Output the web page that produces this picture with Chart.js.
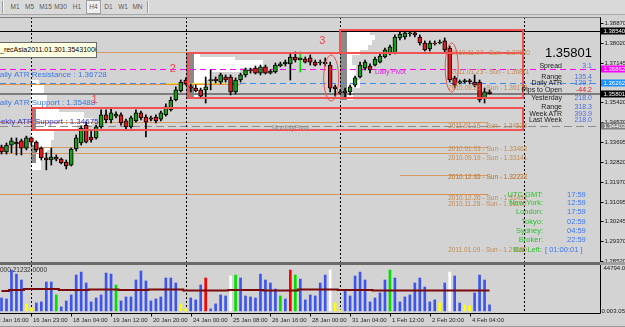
<!DOCTYPE html>
<html><head><meta charset="utf-8"><title>EURUSD H4</title>
<script src="https://cdn.jsdelivr.net/npm/chart.js@4.4.1/dist/chart.umd.min.js"></script>
<style>
html,body{margin:0;padding:0;background:#d3d3d3;overflow:hidden;width:625px;height:327px}
#wrap{position:relative;width:625px;height:327px;overflow:hidden;font-family:'Liberation Sans',Arial,sans-serif}
#tb{position:absolute;left:0;top:0;width:625px;height:14px;background:#d9d9d9;border-bottom:1px solid #a8a8a8}
.btn{position:absolute;top:1px;height:12px;line-height:12px;font-size:6.5px;color:#5a5a5a;text-align:center}
.sep{position:absolute;top:1px;width:1px;height:12px;background:#9a9a9a;border-right:1px solid #f4f4f4}
canvas{position:absolute;left:0}
</style></head><body><div id="wrap">
<div id="tb">
  <div class="sep" style="left:2px"></div>
  <div class="btn" style="left:10px;width:10px">M1</div>
  <div class="btn" style="left:24px;width:11px">M5</div>
  <div class="btn" style="left:39px;width:13px">M15</div>
  <div class="btn" style="left:54px;width:13px">M30</div>
  <div class="btn" style="left:72px;width:10px">H1</div>
  <div class="btn" style="left:86px;width:13px;background:#efefef;border:1px solid #a0a0a0;top:0px">H4</div>
  <div class="btn" style="left:103px;width:11px">D1</div>
  <div class="btn" style="left:117px;width:12px">W1</div>
  <div class="btn" style="left:132px;width:11px">MN</div>
  <div class="sep" style="left:147px"></div>
</div>
<canvas id="cPrice" width="625" height="246" style="top:17px;width:625px;height:246px"></canvas>
<div style="position:absolute;left:0;top:262px;width:600px;height:3px;background:#6a6a6a"></div>
<div style="position:absolute;left:600px;top:262px;width:25px;height:3px;background:#a0a0a0"></div>
<canvas id="cVol" width="625" height="62" style="top:265px;width:625px;height:62px"></canvas>
</div>
<script>
// ---------- DATA ----------
const open = [1.3348,1.3326,1.3356,1.3369,1.3374,1.3343,1.3387,1.3369,1.3343,1.3300,
1.3291,1.3304,1.3295,1.3282,1.3269,1.3339,1.3365,1.3443,1.3391,1.3387,
1.3435,1.3487,1.3465,1.3482,1.3487,1.3461,1.3435,1.3461,1.3496,1.3478,
1.3474,1.3478,1.3469,1.3487,1.3509,1.3552,1.3591,1.3639,1.3609,1.3604,
1.3596,1.3596,1.3636,1.3643,1.3630,1.3652,1.3652,1.3587,1.3639,1.3661,
1.3683,1.3691,1.3669,1.3696,1.3669,1.3674,1.3700,1.3709,1.3709,1.3739,
1.3726,1.3730,1.3735,1.3717,1.3713,1.3717,1.3704,1.3609,1.3587,1.3583,
1.3587,1.3617,1.3652,1.3691,1.3700,1.3704,1.3717,1.3739,1.3757,1.3757,
1.3822,1.3826,1.3841,1.3844,1.3826,1.3800,1.3774,1.3800,1.3800,1.3809,
1.3778,1.3648,1.3626,1.3632,1.3637,1.3630,1.3630,1.3561,1.3587];
const high = [1.3356,1.3365,1.3387,1.3387,1.3382,1.3395,1.3391,1.3374,1.3348,1.3322,
1.3343,1.3313,1.3300,1.3291,1.3343,1.3400,1.3439,1.3456,1.3422,1.3443,
1.3509,1.3509,1.3517,1.3500,1.3496,1.3469,1.3482,1.3509,1.3504,1.3487,
1.3482,1.3487,1.3504,1.3535,1.3565,1.3609,1.3639,1.3648,1.3622,1.3617,
1.3604,1.3652,1.3683,1.3652,1.3669,1.3661,1.3661,1.3648,1.3669,1.3691,
1.3691,1.3700,1.3704,1.3704,1.3683,1.3713,1.3717,1.3726,1.3757,1.3761,
1.3761,1.3739,1.3748,1.3726,1.3726,1.3735,1.3717,1.3617,1.3596,1.3604,
1.3617,1.3656,1.3717,1.3726,1.3709,1.3739,1.3752,1.3778,1.3791,1.3835,
1.3852,1.3857,1.3852,1.3852,1.3835,1.3809,1.3809,1.3809,1.3813,1.3822,
1.3787,1.3656,1.3639,1.3643,1.3643,1.3661,1.3639,1.3604,1.3596];
const low = [1.3317,1.3317,1.3322,1.3313,1.3313,1.3335,1.3356,1.3326,1.3291,1.3248,
1.3269,1.3287,1.3274,1.3252,1.3265,1.3330,1.3356,1.3365,1.3369,1.3382,
1.3430,1.3452,1.3452,1.3474,1.3443,1.3422,1.3430,1.3456,1.3465,1.3391,
1.3461,1.3452,1.3461,1.3482,1.3504,1.3548,1.3587,1.3617,1.3587,1.3587,
1.3565,1.3539,1.3596,1.3626,1.3622,1.3630,1.3574,1.3578,1.3630,1.3652,
1.3669,1.3665,1.3661,1.3665,1.3665,1.3669,1.3696,1.3700,1.3639,1.3717,
1.3674,1.3713,1.3704,1.3700,1.3704,1.3700,1.3587,1.3569,1.3578,1.3561,
1.3574,1.3609,1.3648,1.3683,1.3670,1.3700,1.3713,1.3735,1.3748,1.3752,
1.3813,1.3817,1.3830,1.3826,1.3791,1.3765,1.3765,1.3791,1.3796,1.3761,
1.3630,1.3604,1.3622,1.3626,1.3622,1.3609,1.3543,1.3539,1.3578];
const close = [1.3326,1.3356,1.3374,1.3361,1.3343,1.3387,1.3369,1.3335,1.3300,1.3291,
1.3304,1.3295,1.3278,1.3265,1.3339,1.3387,1.3430,1.3369,1.3378,1.3435,
1.3487,1.3465,1.3496,1.3491,1.3452,1.3435,1.3474,1.3496,1.3474,1.3456,
1.3469,1.3461,1.3496,1.3522,1.3552,1.3596,1.3630,1.3622,1.3604,1.3591,
1.3569,1.3609,1.3641,1.3636,1.3661,1.3639,1.3587,1.3639,1.3661,1.3683,
1.3678,1.3669,1.3696,1.3669,1.3678,1.3704,1.3709,1.3717,1.3739,1.3726,
1.3735,1.3717,1.3717,1.3704,1.3717,1.3709,1.3604,1.3600,1.3583,1.3591,
1.3609,1.3648,1.3704,1.3717,1.3683,1.3730,1.3743,1.3770,1.3783,1.3826,
1.3839,1.3844,1.3844,1.3835,1.3800,1.3770,1.3800,1.3796,1.3804,1.3770,
1.3639,1.3617,1.3632,1.3637,1.3632,1.3617,1.3552,1.3587,1.3580];
const volume = [13500,12500,42700,38500,32300,7300,3100,8300,9400,30200,
30200,16700,4200,10400,16700,37500,40600,29200,9400,13500,
16700,39600,38500,27100,10400,14600,14600,32300,41700,31300,
10400,12500,14600,34400,34400,29200,7300,2100,13500,11500,
27100,34400,2100,7300,16700,15600,36500,37500,34400,15600,
14600,13500,38500,32300,29200,22900,15600,12500,42700,37500,
33300,11500,16700,15600,29200,37500,42700,8300,1000,21900,
15600,36500,40600,32300,9400,13500,18800,32300,42700,34400,
9400,14600,16700,29200,34400,25000,9400,11500,8300,29200,
40600,36500,8300,6300,5200,18800,37500,32300,6300];
const volClass = ['b','b','b','b','b','y','y','b','b','b',
'b','g','b','b','b','b','b','b','b','b',
'b','b','b','g','b','b','b','b','b','b',
'b','b','b','b','b','b','y','y','b','b',
'b','r','b','b','b','b','w','g','b','b',
'b','b','b','b','b','b','g','b','r','g',
'b','b','b','b','b','b','w','y','y','b',
'b','b','b','b','b','b','b','b','g','b',
'b','b','b','b','b','b','b','b','y','b',
'w','b','b','y','y','b','b','b','b'];
const volMA = [20800,20800,21900,21900,21900,22900,22900,22900,22900,22900,
22900,22900,21900,21900,21900,21900,21900,21900,22400,22400,
22400,22400,22400,22400,21900,21900,21900,21900,21900,21900,
22400,22400,22400,22400,22400,22400,22400,21400,21400,21400,
21400,21400,21400,21400,21400,21400,21900,21900,21900,21900,
21900,21900,21900,21400,21400,21400,21400,21400,21400,21400,
22400,22400,22400,22400,22400,22400,22400,22400,21900,21900,
21900,21900,21900,21900,21900,21400,21400,21400,21400,21400,
21400,21400,21400,21400,21232,21232,21232,21232,21232,21232,
21232,21232,21232,21232,21232,21232,21232,21232,21232];
const tickIdx = [-2,6,14,22,30,38,46,54,62,70,78,86,94];
const tickText = ["13 Jan 16:00","16 Jan 23:00","18 Jan 04:00","19 Jan 12:00","20 Jan 20:00","24 Jan 00:00","25 Jan 08:00","26 Jan 16:00","28 Jan 00:00","31 Jan 04:00","1 Feb 12:00","2 Feb 20:00","4 Feb 04:00"];
const priceTicks = [1.38870,1.38020,1.37145,1.36270,1.35420,1.34570,1.33695,1.32820,1.31970,1.31095,1.30245,1.29370,1.28520];
const weekIdx = [6,37,68,105];
// market profiles: [high, low, width in bars]
const profileA = [[1.36390,1.36173,1.6],[1.36173,1.35738,2.6],[1.35738,1.35216,3.2],[1.35216,1.34998,5.6],[1.34998,1.34737,10.6],[1.34737,1.34433,12.3],[1.34433,1.34215,9.2],[1.34215,1.33780,4.6],[1.33780,1.33345,4.0],[1.33345,1.32910,3.2],[1.32910,1.32475,2.0]];
const pocA = [[1.35216,1.34215,1.1],[1.33563,1.32780,1.1]];
const profileB = [[1.37565,1.37391,2.8],[1.37391,1.37260,9.8],[1.37260,1.36912,15.5],[1.36912,1.36738,10.8],[1.36738,1.36390,5.2],[1.36390,1.35955,3.8],[1.35955,1.35607,2.4]];
const pocB = [[1.37565,1.35607,1.6]];
const profileC = [[1.38565,1.38348,6.0],[1.38348,1.38130,7.0],[1.38130,1.37913,6.4],[1.37913,1.37695,5.6],[1.37695,1.37478,4.0],[1.37478,1.37043,2.4],[1.37043,1.36390,3.2],[1.36390,1.36042,4.0],[1.36042,1.35520,2.6]];
const pocC = [[1.38565,1.35520,1.4]];
const profileStart = [6,37,68];
// levels
const levelPrices = [1.38540,1.37608,1.36862,1.36262,1.36216,1.35801,1.34563,1.34403,1.33476,1.33215,1.32258,1.31431];
const boxes = [[6.3,104.7,1.35172,1.34215],[37.5,104.7,1.37565,1.35607],[68,104.7,1.38565,1.37565]];
const ellipses = [[66.2,1.36477,1.5,0.0100],[90.4,1.36934,1.3,0.01066]];
const sunLabels = ["2010.11.07 - Sun - 1.37620","2011.01.23 - Sun - 1.36811","2010.09.26 - Sun - 1.36170","2011.01.16 - Sun - 1.34523","2010.01.03 - Sun - 1.33462","2010.09.19 - Sun - 1.33141","2010.12.05 - Sun - 1.32232","2010.12.12 - Sun - 1.32222","2010.12.26 - Sun - 1.31431","2010.11.28 - Sun - 1.31190","2011.01.09 - Sun - 1.29080"];
const sunLabelPrices = [1.37565,1.36738,1.36042,1.34389,1.33389,1.32997,1.32171,1.32150,1.31258,1.30997,1.28990];

// ---------- STYLE / LAYOUT ----------
const FF = "'Liberation Sans', Arial, sans-serif";
const XMIN = -0.3012, XMAX = 120.181;
const PMIN = 1.28473, PMAX = 1.391305;
const VMIN = -2200, VMAX = 48000;
const VCOL = {b:'#3c55ee', g:'#00e000', y:'#ffff00', r:'#ff0000', w:'#ffffff'};
const TAN = '#c48a52';
const lineStyles = [
  {c:'#000000'}, {c:'#d49c64', to:97.7}, {c:'#ff00ff', d:[6,4]}, {c:'#3c8cf0', d:[6,4]},
  {c:'#e8903c', to:48}, {c:'#7c7c7c', w:2}, {c:'#d49c64', to:97.7}, {c:'#8c8c8c', d:[8,4]},
  {c:'#d49c64', to:97.7}, {c:'#d49c64', to:97.7}, {c:'#d49c64', from:80, to:97.7}, {c:'#d8904c', to:97.7}
];
const axisMarks = [[1.38540,'#000000'],[1.36862,'#ff00ff'],[1.36262,'#1e90ff'],[1.35801,'#000000'],[1.34403,'#808080']];

function txt(ctx, s, x, y, size, color, align, weight){
  ctx.font = (weight||'') + ' ' + size + 'px ' + FF;
  ctx.fillStyle = color; ctx.textAlign = align||'left'; ctx.textBaseline = 'middle';
  ctx.fillText(s, x, y);
}

const pricePlugin = {
  id: 'pricePlugin',
  beforeDatasetsDraw(chart){
    const {ctx, chartArea:ca} = chart;
    const X = v => chart.scales.x.getPixelForValue(v), Y = v => chart.scales.y.getPixelForValue(v);
    ctx.save();
    const profs = [[profileA,pocA],[profileB,pocB],[profileC,pocC]];
    profs.forEach(([rows,poc],k)=>{
      const s = profileStart[k];
      ctx.fillStyle = '#ffffff';
      rows.forEach(([hi,lo,w])=>{ const y0=Math.round(Y(hi)), y1=Math.round(Y(lo)); ctx.fillRect(Math.round(X(s)), y0, Math.round(X(s+w)-X(s)), y1-y0); });
      ctx.fillStyle = '#8a8a8a';
      poc.forEach(([hi,lo,w])=>{ const y0=Math.round(Y(hi)), y1=Math.round(Y(lo)); ctx.fillRect(Math.round(X(s)), y0, Math.round(X(s+w)-X(s)), y1-y0); });
    });
    levelPrices.forEach((p,k)=>{
      const st = lineStyles[k];
      ctx.beginPath(); ctx.strokeStyle = st.c; ctx.lineWidth = st.w||1; ctx.setLineDash(st.d||[]);
      const yy = Math.round(Y(p)) + ((st.w||1)===1 ? 0.5 : 0);
      ctx.moveTo(st.from==null?ca.left:X(st.from), yy); ctx.lineTo(st.to==null?ca.right:X(st.to), yy); ctx.stroke();
    });
    // short yellow line
    ctx.setLineDash([]); ctx.strokeStyle='#e8d840'; ctx.beginPath();
    ctx.moveTo(X(33), Math.round(Y(1.3624))+0.5); ctx.lineTo(X(45), Math.round(Y(1.3624))+0.5); ctx.stroke();
    ctx.setLineDash([2,2]); ctx.strokeStyle='#000'; ctx.lineWidth=1;
    weekIdx.forEach(w=>{ const xx=Math.round(X(w))+0.5; ctx.beginPath(); ctx.moveTo(xx,ca.top); ctx.lineTo(xx,ca.bottom); ctx.stroke(); });
    ctx.restore();
  },
  afterDatasetsDraw(chart){
    const {ctx, chartArea:ca} = chart;
    const X = v => chart.scales.x.getPixelForValue(v), Y = v => chart.scales.y.getPixelForValue(v);
    ctx.save();
    ctx.setLineDash([]);
    // rectangles
    ctx.strokeStyle = '#f25252'; ctx.lineWidth = 2;
    boxes.forEach(([i0,i1,p0,p1])=>{ ctx.strokeRect(Math.round(X(i0)), Math.round(Y(p0)), Math.round(X(i1)-X(i0)), Math.round(Y(p1)-Y(p0))); });
    // ellipses
    ctx.lineWidth = 1; ctx.strokeStyle = '#ee4c4c';
    ellipses.forEach(([ci,cp,rb,rp])=>{ ctx.beginPath(); ctx.ellipse(X(ci), Y(cp), X(ci+rb)-X(ci), Y(cp-rp)-Y(cp), 0, 0, Math.PI*2); ctx.stroke(); });
    // texts
    txt(ctx,'Daily ATR Resistance : 1.36728', X(-1.5), Y(1.36608), 8, '#3c78e6');
    txt(ctx,'Daily ATR Support : 1.35488', X(-1.5), Y(1.35390), 8, '#3c78e6');
    txt(ctx,'Weekly ATR Support : 1.34675', X(-2.5), Y(1.34563), 8, '#3434c8');
    txt(ctx,'MonthlyPivot', X(54.3), Y(1.34302), 6.5, '#8c8c8c');
    txt(ctx,'Daily Pivot', X(75), Y(1.36738), 6.5, '#e01ee0');
    sunLabels.forEach((s,k)=>{ txt(ctx, s, X(k<2?90.3:89.7), Y(sunLabelPrices[k]), 6.5, TAN); });
    txt(ctx,'1', X(18.7), Y(1.35520), 11, '#f04848', 'center');
    txt(ctx,'2', X(34.4), Y(1.36869), 11, '#f04848', 'center');
    txt(ctx,'3', X(64.4), Y(1.38087), 11, '#f04848', 'center');
    // right axis
    const ax = Math.round(ca.right)+0.5;
    ctx.strokeStyle='#000'; ctx.lineWidth=1; ctx.beginPath(); ctx.moveTo(ax,0); ctx.lineTo(ax,chart.height); ctx.stroke();
    ctx.strokeStyle='#808080'; ctx.beginPath(); ctx.moveTo(0,0.5); ctx.lineTo(ax,0.5); ctx.stroke();
    priceTicks.forEach(p=>{ const yy=Math.round(Y(p))+0.5; ctx.strokeStyle='#000'; ctx.beginPath(); ctx.moveTo(ax,yy); ctx.lineTo(ax+3,yy); ctx.stroke(); txt(ctx, p.toFixed(5), ax+4, yy, 6, '#202020'); });
    axisMarks.forEach(([p,bg])=>{ const yy=Math.round(Y(p)); ctx.fillStyle=bg; ctx.fillRect(ax+0.5, yy-3.5, 25, 7); txt(ctx, p.toFixed(5), ax+3, yy, 6, '#ffffff'); });
    ctx.restore();
  }
};

const volPlugin = {
  id: 'volPlugin',
  beforeDatasetsDraw(chart){
    const {ctx, chartArea:ca} = chart;
    const X = v => chart.scales.x.getPixelForValue(v);
    ctx.save(); ctx.setLineDash([2,2]); ctx.strokeStyle='#000'; ctx.lineWidth=1;
    weekIdx.forEach(w=>{ const xx=Math.round(X(w))+0.5; ctx.beginPath(); ctx.moveTo(xx,ca.top); ctx.lineTo(xx,ca.bottom); ctx.stroke(); });
    ctx.restore();
  },
  afterDatasetsDraw(chart){
    const {ctx, chartArea:ca} = chart;
    const X = v => chart.scales.x.getPixelForValue(v), Y = v => chart.scales.y.getPixelForValue(v);
    ctx.save(); ctx.setLineDash([]);
    const ax = Math.round(ca.right)+0.5, by = Math.round(ca.bottom)+0.5;
    ctx.strokeStyle='#000'; ctx.lineWidth=1;
    ctx.beginPath(); ctx.moveTo(ax,0); ctx.lineTo(ax,by); ctx.moveTo(0,by); ctx.lineTo(ax,by); ctx.stroke();
    txt(ctx,'44794.05', ax+3, Y(44794.05), 6, '#202020');
    txt(ctx,'0.00', ax+1, Y(0), 6, '#202020');
    txt(ctx,'3.05', 625, Y(0), 6, '#202020', 'right');
    txt(ctx,'000 21232.0000', 0, 5, 6.5, '#303030');
    tickIdx.forEach((t,k)=>{ const xx=Math.round(X(t))+0.5; ctx.strokeStyle='#000'; ctx.beginPath(); ctx.moveTo(xx,by); ctx.lineTo(xx,by+3); ctx.stroke(); txt(ctx, tickText[k], xx+1.5, by+6.5, 6, '#282828'); });
    ctx.strokeStyle='#9a9a9a'; ctx.beginPath(); ctx.moveTo(0,61.5); ctx.lineTo(625,61.5); ctx.stroke();
    ctx.restore();
  }
};

const baseOpts = (ymin, ymax, padBottom) => ({
  responsive:false, animation:false, devicePixelRatio:1,
  layout:{padding:{left:0,right:25,top:0,bottom:padBottom}},
  plugins:{legend:{display:false}, tooltip:{enabled:false}},
  scales:{
    x:{type:'linear', min:XMIN, max:XMAX, offset:false, display:false},
    y:{type:'linear', min:ymin, max:ymax, beginAtZero:false, display:false}
  }
});

new Chart(document.getElementById('cPrice'), {
  type:'bar',
  data:{datasets:[
    {label:'Body', data: open.map((o,i)=>({x:i, y:[o, close[i]]})),
     backgroundColor: open.map((o,i)=> close[i]>=o ? '#1c9a1c' : '#e81818'),
     borderColor:'#000000', borderWidth:1, borderSkipped:false, barThickness:4, grouped:false, order:0},
    {label:'Wick', data: low.map((l,i)=>({x:i, y:[l, high[i]]})),
     backgroundColor: low.map((l,i)=> i===60 ? '#00d800' : '#000000'), barThickness:1, grouped:false, order:1}
  ]},
  options: baseOpts(PMIN, PMAX, 1),
  plugins:[pricePlugin]
});

new Chart(document.getElementById('cVol'), {
  type:'bar',
  data:{datasets:[
    {type:'line', label:'MA', data: volMA.map((v,i)=>({x:i, y:v})), borderColor:'#7a0a0a', borderWidth:2, pointRadius:0, stepped:'middle', order:0},
    {type:'bar', label:'Volume', data: volume.map((v,i)=>({x:i, y:v})), backgroundColor: volClass.map(c=>VCOL[c]), barThickness:2, grouped:false, order:1}
  ]},
  options: baseOpts(VMIN, VMAX, 14),
  plugins:[volPlugin]
});

// ---------- HTML overlay texts ----------
const wrap = document.getElementById('wrap');
function addText(s, x, y, size, color, align, weight){
  const d = document.createElement('div'); d.textContent = s;
  d.style.cssText = 'position:absolute;white-space:nowrap;top:'+(y-(size+2)/2)+'px;font:'+(weight||'normal')+' '+size+'px '+FF+';line-height:'+(size+2)+'px;color:'+color+';'+(align==='right'?'right:'+(625-x)+'px;':'left:'+x+'px;');
  wrap.appendChild(d); return d;
}
// tooltip box
const tip = addText('_recAsia2011.01.301.35431000', 0, 50, 7, '#000');
tip.style.background='#ffffe1'; tip.style.border='1px solid #6a6a6a'; tip.style.width='96px'; tip.style.height='14px'; tip.style.lineHeight='14px'; tip.style.top='42px'; tip.style.overflow='hidden'; tip.style.left='-1px';
// info panel
addText('1.35801', 592, 52, 13, '#000', 'right');
const info = [['Spread','3.1',65,'#4a6ee0'],['Range','135.4',76,'#4a6ee0'],['Daily ATR','129.7',82,'#4a6ee0'],['Pips to Open','-44.2',89,'#e02020'],['Yesterday','218.0',97,'#4a6ee0'],['Range','318.3',106,'#4a6ee0'],['Week ATR','393.9',113,'#4a6ee0'],['Last Week','218.0',119,'#4a6ee0']];
info.forEach(([l,v,y,c])=>{ addText(l, 562, y, 7, '#1e1e1e', 'right'); addText(v, 592, y, 7, c, 'right'); });
const times = [['UTC GMT:','17:59',195],['New York:','12:59',203],['London:','17:59',212],['Tokyo:','02:59',222],['Sydney:','04:59',231],['Broker:','22:59',240]];
times.forEach(([l,v,y])=>{ addText(l, 543, y, 7.5, '#30c030', 'right'); addText(v, 567, y, 7.5, '#3c78f0'); });
addText('Bar Left:', 542, 250, 7.5, '#30c030', 'right');
addText('[ 01:00:01 ]', 545, 250, 7.5, '#3c78f0');
</script>
</body></html>
